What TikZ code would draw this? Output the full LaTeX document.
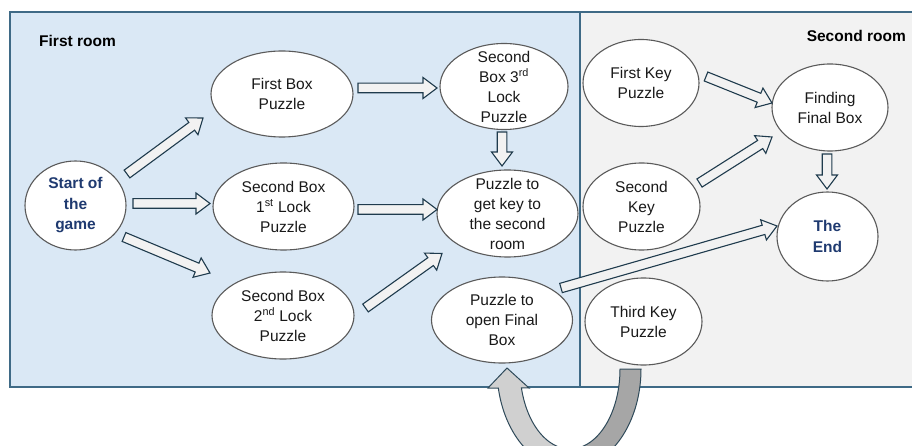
\documentclass[tikz,border=0pt]{standalone}
\usepackage{fontspec}
\setmainfont{Liberation Sans}
\usetikzlibrary{shapes.geometric,calc}

\definecolor{roomblue}{HTML}{DAE8F5}
\definecolor{roomgray}{HTML}{F2F2F2}
\definecolor{roomline}{HTML}{3F6A86}
\definecolor{ellline}{HTML}{5A5A5A}
\definecolor{arrline}{HTML}{1F3B4D}
\definecolor{arrfill}{HTML}{F2F2F2}
\definecolor{navy}{HTML}{1F3A70}
\definecolor{ulight}{HTML}{D0D0D0}
\definecolor{udark}{HTML}{A6A6A6}
\definecolor{uline}{HTML}{2F4A5A}

% hollow block arrow from #1 (tail) to #2 (tip)
\newcommand\blockarrow[2]{%
  \coordinate (ba-h) at ($(#2)!14pt!(#1)$);
  \path[blockarr]
    ($(#1)!4.8pt!90:(#2)$) -- ($(ba-h)!4.8pt!90:(#2)$) --
    ($(ba-h)!10.5pt!90:(#2)$) -- (#2) --
    ($(ba-h)!10.5pt!-90:(#2)$) -- ($(ba-h)!4.8pt!-90:(#2)$) --
    ($(#1)!4.8pt!-90:(#2)$) -- cycle;
}

\begin{document}
\begin{tikzpicture}[x=1pt,y=-1pt,
  room/.style={draw=roomline, line width=1.4pt},
  ell/.style={ellipse, draw=ellline, fill=white, line width=1.1pt, inner sep=0pt},
  txt/.style={align=center, font=\fontsize{15.5}{20}\selectfont, text=black!90, inner sep=0pt},
  strong/.style={align=center, font=\bfseries\fontsize{15.5}{20.5}\selectfont, text=navy, inner sep=0pt},
  roomtitle/.style={font=\bfseries\fontsize{15.5}{18}\selectfont, inner sep=0pt},
  blockarr/.style={draw=arrline, fill=arrfill, line width=1.1pt, line join=miter},
  uturn/.style={draw=uline, line width=1pt, line join=miter},
]
\useasboundingbox (0,0) rectangle (912,446);
\clip (0,0) rectangle (912,446);

% rooms
\path[fill=roomblue] (10,12) rectangle (580,387);
\path[fill=roomgray] (580,12) rectangle (930,387);
\draw[room] (10,12) rectangle (580,387);
\draw[room] (580,12) rectangle (930,387);

\node[roomtitle, anchor=west] (room1) at (39,41) {First room};
\node[roomtitle, anchor=east] (room2) at (906,36) {Second room};

% puzzles
\node[ell, minimum width=101pt, minimum height=89pt,
  label={[strong]center:{Start of\\the\\game}}] (start) at (75.5,205.5) {};
\node[ell, minimum width=142pt, minimum height=86pt,
  label={[txt]center:{First Box\\Puzzle}}] (box1) at (282,94) {};
\node[ell, minimum width=141pt, minimum height=87pt,
  label={[txt]center:{Second Box\\1\textsuperscript{st} Lock\\Puzzle}}] (lock1) at (283.5,206.5) {};
\node[ell, minimum width=142pt, minimum height=87pt,
  label={[txt]center:{Second Box\\2\textsuperscript{nd} Lock\\Puzzle}}] (lock2) at (283,315.5) {};
\node[ell, minimum width=128pt, minimum height=86pt,
  label={[txt]center:{Second\\Box 3\textsuperscript{rd}\\Lock\\Puzzle}}] (lock3) at (504,86.5) {};
\node[ell, minimum width=141pt, minimum height=87pt,
  label={[txt]center:{Puzzle to\\get key to\\the second\\room}}] (getkey) at (507.5,213.5) {};
\node[ell, minimum width=141pt, minimum height=86pt,
  label={[txt]center:{Puzzle to\\open Final\\Box}}] (openbox) at (502,320) {};
\node[ell, minimum width=116pt, minimum height=87pt,
  label={[txt]center:{First Key\\Puzzle}}] (key1) at (641,83) {};
\node[ell, minimum width=117pt, minimum height=87pt,
  label={[txt]center:{Second\\Key\\Puzzle}}] (key2) at (641.5,206.5) {};
\node[ell, minimum width=117pt, minimum height=87pt,
  label={[txt]center:{Third Key\\Puzzle}}] (key3) at (643.5,321.5) {};
\node[ell, minimum width=116pt, minimum height=87pt,
  label={[txt]center:{Finding\\Final Box}}] (final) at (830,107.5) {};
\node[ell, minimum width=101pt, minimum height=89pt,
  label={[strong]center:{The\\End}}] (theend) at (827.5,236.5) {};

% arrow ends
\coordinate (s-box1-t) at (127,174);   \coordinate (s-box1-h) at (203,118);
\coordinate (s-lock1-t) at (133,203.5); \coordinate (s-lock1-h) at (210,203.5);
\coordinate (s-lock2-t) at (124,237);  \coordinate (s-lock2-h) at (210,273);
\coordinate (box1-l3-t) at (358,88);   \coordinate (box1-l3-h) at (437,88);
\coordinate (l1-gk-t) at (358,209.5);  \coordinate (l1-gk-h) at (437,209.5);
\coordinate (l2-gk-t) at (365.5,308);  \coordinate (l2-gk-h) at (442,253.5);
\coordinate (l3-gk-t) at (502,132);    \coordinate (l3-gk-h) at (502,166);
\coordinate (ob-end-t) at (561,288);   \coordinate (ob-end-h) at (777,226);
\coordinate (k1-fin-t) at (706,76.5);  \coordinate (k1-fin-h) at (772,103);
\coordinate (k2-fin-t) at (699.5,183); \coordinate (k2-fin-h) at (772,137);
\coordinate (fin-end-t) at (827,154);  \coordinate (fin-end-h) at (827,189);

\blockarrow{s-box1-t}{s-box1-h}
\blockarrow{s-lock1-t}{s-lock1-h}
\blockarrow{s-lock2-t}{s-lock2-h}
\blockarrow{box1-l3-t}{box1-l3-h}
\blockarrow{l1-gk-t}{l1-gk-h}
\blockarrow{l2-gk-t}{l2-gk-h}
\blockarrow{l3-gk-t}{l3-gk-h}
\blockarrow{ob-end-t}{ob-end-h}
\blockarrow{k1-fin-t}{k1-fin-h}
\blockarrow{k2-fin-t}{k2-fin-h}
\blockarrow{fin-end-t}{fin-end-h}

% U-turn arrow from the third key puzzle back to the final box puzzle
\path[uturn, fill=udark]
  plot[domain=0:90, samples=40] ({569+72*cos(\x)},{369+100*sin(\x)})
  -- plot[domain=90:0, samples=40] ({570+50*cos(\x)},{369+80*sin(\x)})
  -- cycle;
\path[uturn, fill=ulight]
  plot[domain=90:169, samples=40] ({569+72*cos(\x)},{369+100*sin(\x)})
  -- (488,388) -- (507,368) -- (529,388)
  -- plot[domain=166.3:90, samples=40] ({570+50*cos(\x)},{369+80*sin(\x)})
  -- cycle;
\end{tikzpicture}
\end{document}
